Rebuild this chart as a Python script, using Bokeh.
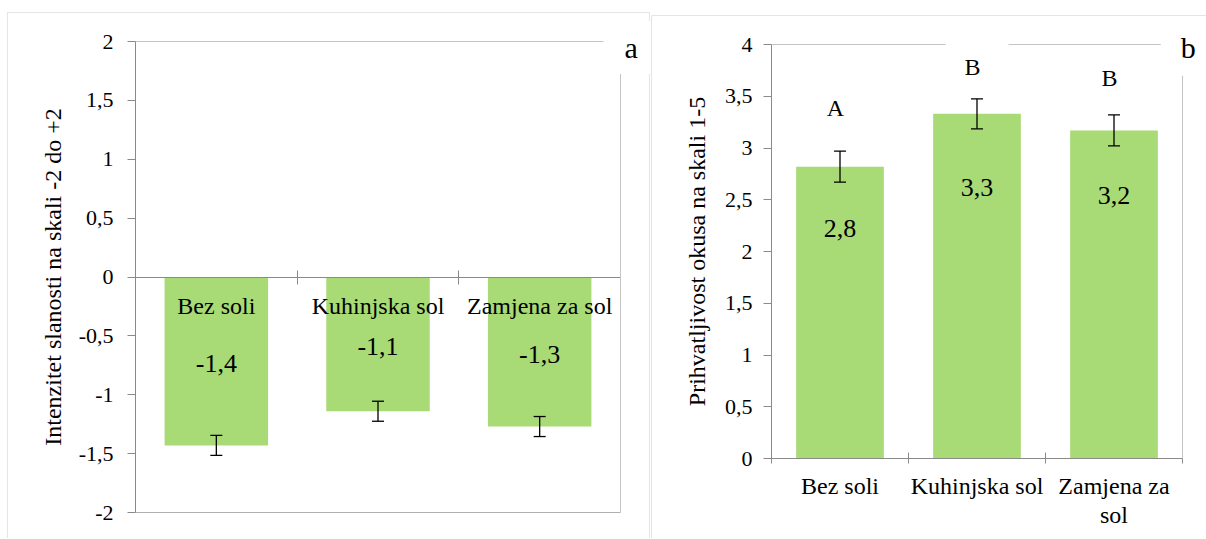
from bokeh.plotting import figure
from bokeh.layouts import row
from bokeh.models import (Range1d, FixedTicker, LinearAxis, CustomJSTickFormatter,
                          Whisker, TeeHead, ColumnDataSource, Label, BoxAnnotation)
from bokeh.core.properties import value
from bokeh.embed import file_html
from bokeh.resources import INLINE

# ---------------- data ----------------
categories_a = ["Bez soli", "Kuhinjska sol", "Zamjena za sol"]
categories_b = ["Bez soli", "Kuhinjska sol", "Zamjena za\nsol"]
saltiness = [-1.43, -1.14, -1.27]          # panel a: mean
saltiness_err = [0.085, 0.085, 0.085]      # panel a: error
acceptability = [2.82, 3.33, 3.17]         # panel b: mean
acceptability_err = [0.15, 0.145, 0.15]    # panel b: error
letters = ["A", "B", "B"]
yticks_a = [-2, -1.5, -1, -0.5, 0, 0.5, 1, 1.5, 2]
yticks_b = [0, 0.5, 1, 1.5, 2, 2.5, 3, 3.5, 4]

# ---------------- layout constants ----------------
FONT = "Liberation Serif"
GREEN = "#A8DA76"
AXIS_GRAY = "#8a8a8a"
FRAME_GRAY = "#c4c4c4"
BORDER_GRAY = "#a6a6a6"
H = 538
W1, W2 = 650, 556
value_label_y_b = [2.22, 2.62, 2.54]
letter_y_b = [3.39, 3.78, 3.68]


def fmt(v):
    return f"{v:.1f}".replace(".", ",")


def xrange_for(px_lo, px_hi, v_lo, v_hi, size):
    s = (px_hi - px_lo) / (v_hi - v_lo)
    return Range1d(v_lo - px_lo / s, v_lo + (size - px_lo) / s)


def yrange_for(px_top, px_bot, v_top, v_bot, size):
    s = (px_bot - px_top) / (v_top - v_bot)
    return Range1d(v_bot - (size - px_bot) / s, v_top + px_top / s)


comma_fmt = CustomJSTickFormatter(code="return String(tick).replace('.', ',');")


def base_axis_style(ax, color=AXIS_GRAY):
    ax.axis_line_color = color
    ax.major_tick_line_color = color
    ax.minor_tick_line_color = color
    ax.major_label_text_font = FONT
    ax.major_label_text_color = "black"
    ax.axis_label_text_font = FONT
    ax.axis_label_text_font_style = "normal"
    ax.axis_label_text_color = "black"


def frame_axis(color, loc, bounds):
    ax = LinearAxis(ticker=FixedTicker(ticks=[], minor_ticks=[]), fixed_location=loc, bounds=bounds)
    ax.axis_line_color = color
    ax.major_tick_line_color = None
    ax.minor_tick_line_color = None
    ax.major_label_text_font_size = "0px"
    return ax


def make_fig(w, xr, yr):
    p = figure(width=w, height=H, x_range=xr, y_range=yr,
               output_backend="svg", toolbar_location=None,
               min_border=0, min_border_left=0, min_border_right=0,
               min_border_top=0, min_border_bottom=0,
               outline_line_color=None, background_fill_color="white",
               border_fill_color="white")
    p.grid.visible = False
    return p


xs = [i + 0.5 for i in range(len(categories_a))]

# ================= Panel a =================
src_a = ColumnDataSource(dict(
    x=xs, top=saltiness,
    upper=[v + e for v, e in zip(saltiness, saltiness_err)],
    lower=[v - e for v, e in zip(saltiness, saltiness_err)],
    ly=[v / 2 - 0.02 for v in saltiness],
    label=[fmt(v) for v in saltiness],
))

p1 = make_fig(W1, xrange_for(135, 620, 0, 3, W1), yrange_for(41, 512, 2, -2, H))

p1.add_layout(BoxAnnotation(left=-0.792, right=3.179, top=2.246, bottom=-3,
                            fill_color=None, line_color=BORDER_GRAY, line_width=1,
                            level="underlay"))

p1.vbar(x="x", top="top", bottom=0, width=0.64, source=src_a, fill_color=GREEN, line_color=None)
p1.add_layout(Whisker(source=src_a, base="x", upper="upper", lower="lower",
                      line_color="black", line_width=1.3, level="annotation",
                      upper_head=TeeHead(size=12, line_color="black", line_width=1.3),
                      lower_head=TeeHead(size=12, line_color="black", line_width=1.3)))
p1.text(x="x", y="ly", text="label", source=src_a, text_font=value(FONT),
        text_font_size="26px", text_align="center", text_baseline="middle", text_color="black")

ya = p1.yaxis[0]
base_axis_style(ya)
ya.fixed_location = 0
ya.bounds = (-2, 2)
ya.ticker = FixedTicker(ticks=yticks_a, minor_ticks=[])
ya.formatter = comma_fmt
ya.major_tick_in = 0
ya.major_tick_out = 8
ya.major_label_text_font_size = "22px"
ya.major_label_standoff = 14
ya.axis_label = "Intenzitet slanosti na skali -2 do +2"
ya.axis_label_text_font_size = "24px"
ya.axis_label_standoff = 10

xa = p1.xaxis[0]
base_axis_style(xa)
xa.fixed_location = 0
xa.bounds = (0, 3)
xa.ticker = FixedTicker(ticks=xs, minor_ticks=[0, 1, 2, 3])
xa.major_label_overrides = {x: c for x, c in zip(xs, categories_a)}
xa.major_tick_in = 0
xa.major_tick_out = 0
xa.minor_tick_in = 7
xa.minor_tick_out = 7
xa.major_label_text_font_size = "24px"
xa.major_label_standoff = 9

p1.add_layout(frame_axis("#b0b0b0", -2, (0, 3)), "below")
p1.add_layout(frame_axis(FRAME_GRAY, 2, (0, 3)), "above")
p1.add_layout(frame_axis(FRAME_GRAY, 3, (-2, 2)), "right")

p1.add_layout(Label(x=3.066, y=1.949, text="a", text_font=FONT, text_font_size="30px",
                    text_align="center", text_baseline="middle", text_color="black",
                    background_fill_color="white",
                    padding=dict(left=21, right=21, top=10, bottom=10)))

# ================= Panel b =================
src_b = ColumnDataSource(dict(
    x=xs, top=acceptability,
    upper=[v + e for v, e in zip(acceptability, acceptability_err)],
    lower=[v - e for v, e in zip(acceptability, acceptability_err)],
    ly=value_label_y_b,
    label=[fmt(v) for v in acceptability],
))

p2 = make_fig(W2, xrange_for(121, 532, 0, 3, W2), yrange_for(44, 458, 4, 0, H))

p2.add_layout(BoxAnnotation(left=-0.876, right=5, top=4.28, bottom=-2,
                            fill_color=None, line_color=BORDER_GRAY, line_width=1,
                            level="underlay"))

p2.vbar(x="x", top="top", bottom=0, width=0.64, source=src_b, fill_color=GREEN, line_color=None)
p2.add_layout(Whisker(source=src_b, base="x", upper="upper", lower="lower",
                      line_color="black", line_width=1.3, level="annotation",
                      upper_head=TeeHead(size=12, line_color="black", line_width=1.3),
                      lower_head=TeeHead(size=12, line_color="black", line_width=1.3)))
p2.text(x="x", y="ly", text="label", source=src_b, text_font=value(FONT),
        text_font_size="26px", text_align="center", text_baseline="middle", text_color="black")

yb = p2.yaxis[0]
base_axis_style(yb)
yb.fixed_location = 0
yb.bounds = (0, 4)
yb.ticker = FixedTicker(ticks=yticks_b, minor_ticks=[])
yb.formatter = comma_fmt
yb.major_tick_in = 0
yb.major_tick_out = 8
yb.major_label_text_font_size = "22px"
yb.major_label_standoff = 11
yb.axis_label = "Prihvatljivost okusa na skali 1-5"
yb.axis_label_text_font_size = "24px"
yb.axis_label_standoff = 12

xb = p2.xaxis[0]
base_axis_style(xb)
xb.fixed_location = 0
xb.bounds = (0, 3)
xb.ticker = FixedTicker(ticks=xs, minor_ticks=[0, 1, 2, 3])
xb.major_label_overrides = {x: c for x, c in zip(xs, categories_b)}
xb.major_tick_in = 0
xb.major_tick_out = 0
xb.minor_tick_in = 6
xb.minor_tick_out = 5
xb.major_label_text_font_size = "24px"
xb.major_label_text_line_height = 1.12
xb.major_label_standoff = 9

p2.add_layout(frame_axis(FRAME_GRAY, 4, (0, 3)), "above")
p2.add_layout(frame_axis(FRAME_GRAY, 3, (0, 4)), "right")

for x, y, t in zip(xs, letter_y_b, letters):
    p2.add_layout(Label(x=x, y=y, text=t, text_font=FONT, text_font_size="24px",
                        text_align="center", text_baseline="middle", text_color="black",
                        background_fill_color="white",
                        padding=dict(left=19, right=28, top=12, bottom=12)))

p2.add_layout(Label(x=3.042, y=3.974, text="b", text_font=FONT, text_font_size="30px",
                    text_align="center", text_baseline="middle", text_color="black",
                    background_fill_color="white",
                    padding=dict(left=20, right=20, top=12, bottom=12)))

layout = row(p1, p2)
open("out.html", "w").write(file_html(layout, INLINE, title="chart"))
